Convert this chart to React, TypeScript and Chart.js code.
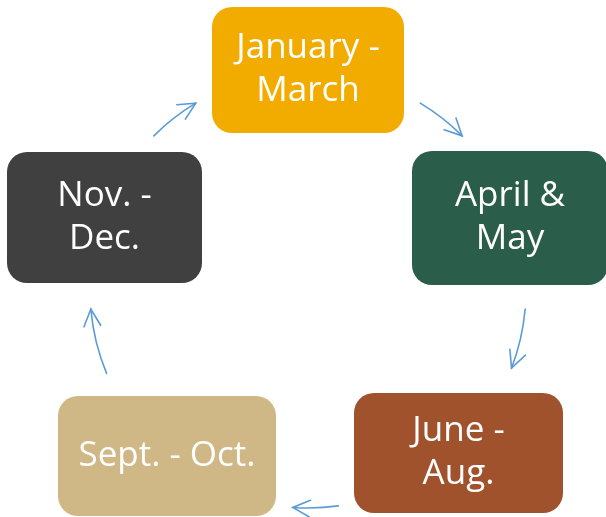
import React, { useEffect, useRef } from "react";
import { Chart, registerables } from "chart.js";

Chart.register(...registerables);

// Stage labels (cycle order, clockwise from the top)
const stageLabels: string[][] = [
  ["January -", "March"],
  ["April &", "May"],
  ["June -", "Aug."],
  ["Sept. - Oct."],
  ["Nov. -", "Dec."],
];
const stageColors = ["#F2AC00", "#2A5E4B", "#A0522D", "#CFB886", "#404040"];

// Layout (diagram units == scale units)
const boxCenterX = [308, 510, 458.5, 167, 104.5];
const boxCenterY = [70, 218, 453, 456, 217.5];
const boxWidth = [192, 196, 209, 218, 195];
const boxHeight = [126, 134, 120, 120, 131];

// Arrows: arcs on a circle around the cycle centre (degrees, clockwise)
const cycleCenter = { x: 308, y: 290, r: 218 };
const arrowStartDeg = [-135, -59, 5, 82, 157.5];
const arrowEndDeg = [-121, -45, 21, 94, 175];

const cyclePlugin = {
  id: "cyclePlugin",
  afterDraw(chart: any) {
    const ctx = chart.ctx as CanvasRenderingContext2D;
    const xs = chart.scales.x;
    const ys = chart.scales.y;
    const px = (v: number) => xs.getPixelForValue(v);
    const py = (v: number) => ys.getPixelForValue(v);

    ctx.save();
    // boxes
    stageLabels.forEach((lines, i) => {
      const x0 = px(boxCenterX[i] - boxWidth[i] / 2);
      const x1 = px(boxCenterX[i] + boxWidth[i] / 2);
      const y0 = py(boxCenterY[i] - boxHeight[i] / 2);
      const y1 = py(boxCenterY[i] + boxHeight[i] / 2);
      ctx.fillStyle = stageColors[i];
      ctx.beginPath();
      (ctx as any).roundRect(x0, y0, x1 - x0, y1 - y0, 20);
      ctx.fill();

      ctx.fillStyle = "#FFFFFF";
      ctx.font = '35px "Open Sans"';
      ctx.textAlign = "center";
      ctx.textBaseline = "middle";
      const lh = 43;
      const cx = px(boxCenterX[i]);
      const cy = py(boxCenterY[i]);
      lines.forEach((t, k) => {
        const off = (k - (lines.length - 1) / 2) * lh;
        ctx.fillText(t, cx, cy + off);
      });
    });

    // arrows
    const cx = px(cycleCenter.x);
    const cy = py(cycleCenter.y);
    const r = cycleCenter.r;
    ctx.strokeStyle = "#5B9BD5";
    ctx.lineWidth = 1.6;
    ctx.lineCap = "round";
    arrowStartDeg.forEach((sd, i) => {
      const a0 = (sd * Math.PI) / 180;
      const a1 = (arrowEndDeg[i] * Math.PI) / 180;
      ctx.beginPath();
      ctx.arc(cx, cy, r, a0, a1, false);
      ctx.stroke();
      const tx = cx + r * Math.cos(a1);
      const ty = cy + r * Math.sin(a1);
      // back direction (opposite to clockwise tangent)
      const back = Math.atan2(-Math.cos(a1), Math.sin(a1));
      const hl = 19;
      const spread = (26 * Math.PI) / 180;
      ctx.beginPath();
      ctx.moveTo(tx + hl * Math.cos(back + spread), ty + hl * Math.sin(back + spread));
      ctx.lineTo(tx, ty);
      ctx.lineTo(tx + hl * Math.cos(back - spread), ty + hl * Math.sin(back - spread));
      ctx.stroke();
    });
    ctx.restore();
  },
};

export default function App() {
  const ref = useRef<HTMLCanvasElement | null>(null);
  useEffect(() => {
    document.body.style.margin = "0";
    if (!ref.current) return;
    const chart = new Chart(ref.current, {
      type: "scatter",
      data: {
        datasets: [
          {
            data: boxCenterX.map((x, i) => ({ x, y: boxCenterY[i] })),
            pointRadius: 0,
            pointHoverRadius: 0,
          },
        ],
      },
      options: {
        animation: false,
        responsive: false,
        events: [],
        layout: { padding: 0 },
        plugins: { legend: { display: false }, tooltip: { enabled: false } },
        scales: {
          x: { type: "linear", min: 0, max: 606, display: false },
          y: { type: "linear", min: 0, max: 517, reverse: true, display: false },
        },
      },
      plugins: [cyclePlugin],
    });
    return () => chart.destroy();
  }, []);
  return (
    <div style={{ width: 606, height: 517, background: "#fff" }}>
      <canvas ref={ref} width={606} height={517} style={{ display: "block" }} />
    </div>
  );
}
